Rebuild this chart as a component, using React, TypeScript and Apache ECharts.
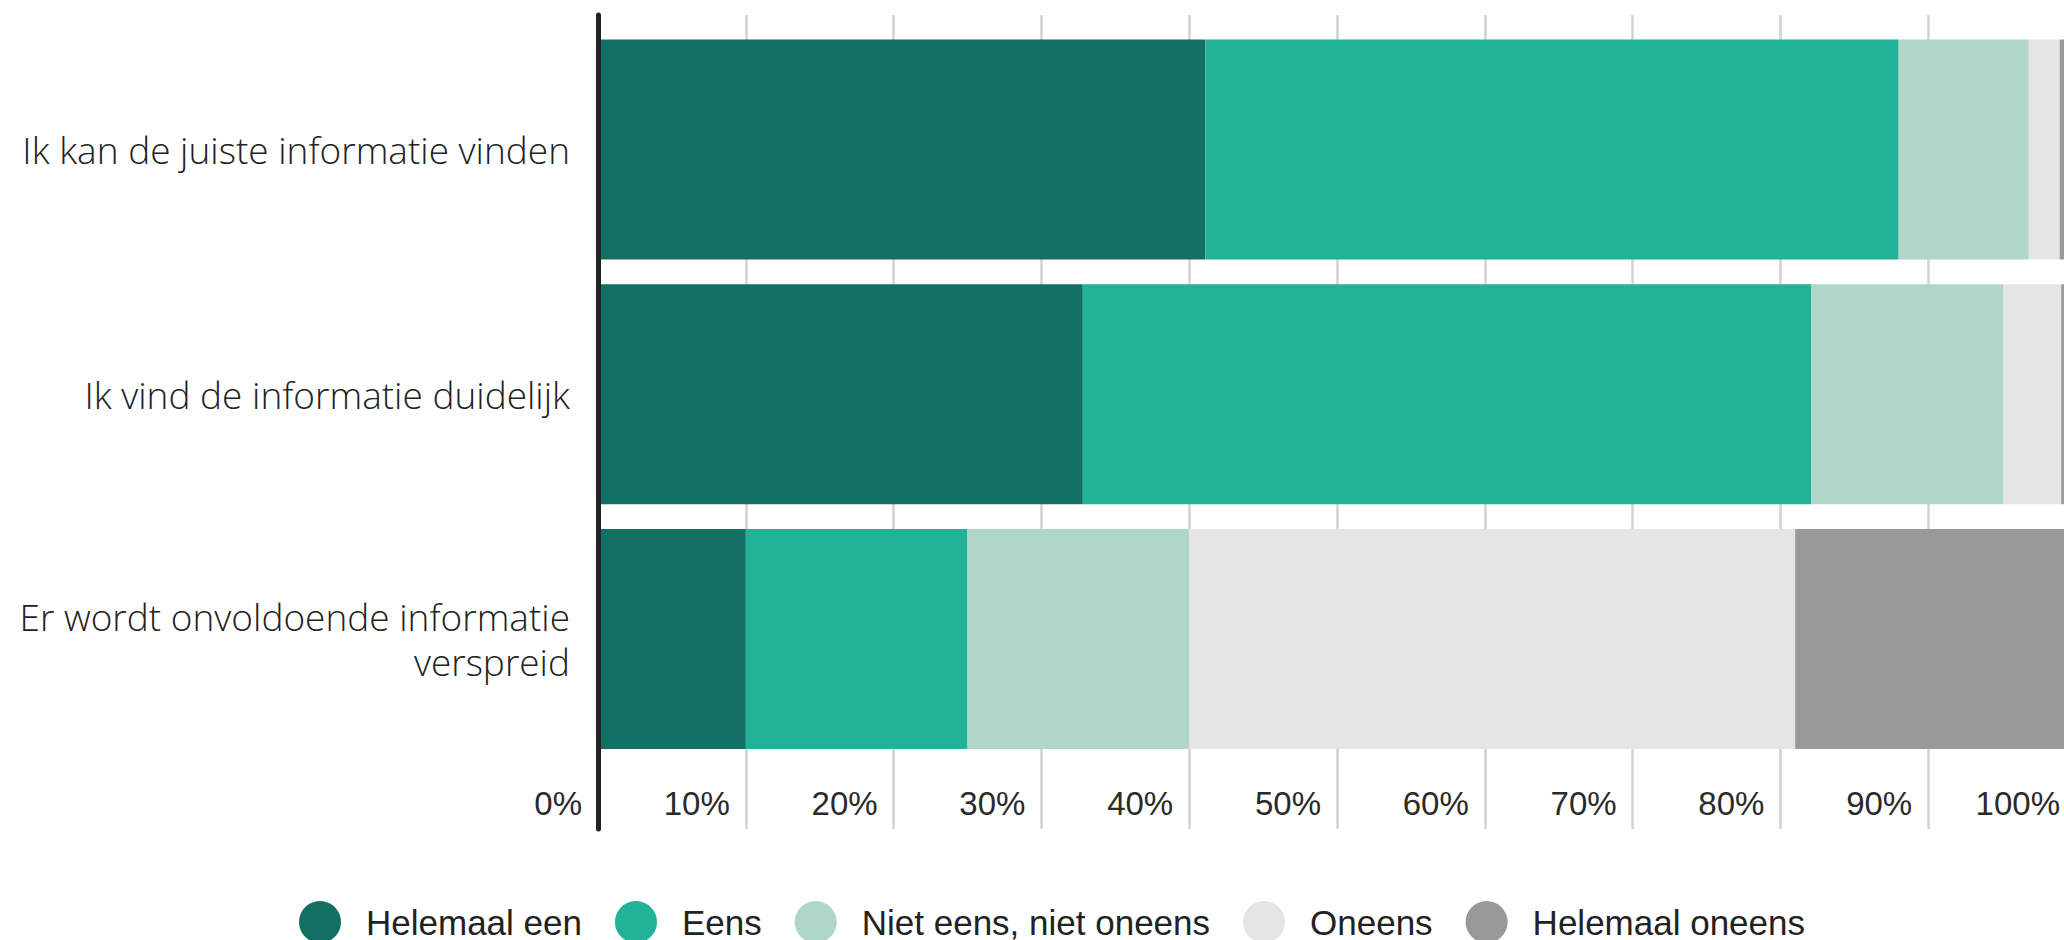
import React, { useEffect, useRef } from "react";
import * as echarts from "echarts";

const categories = [
  "Ik kan de juiste informatie vinden",
  "Ik vind de informatie duidelijk",
  "Er wordt onvoldoende informatie\nverspreid",
];
const seriesNames = ["Helemaal een", "Eens", "Niet eens, niet oneens", "Oneens", "Helemaal oneens"];
const helemaalEen = [41.1, 32.8, 10.0];
const eens = [46.9, 49.3, 15.0];
const nietEens = [8.8, 13.0, 15.0];
const oneens = [2.1, 3.9, 41.0];
const helemaalOneens = [1.1, 1.0, 19.0];
const seriesValues = [helemaalEen, eens, nietEens, oneens, helemaalOneens];
const colors = ["#116F63", "#22B199", "#B0D6CA", "#E5E5E5", "#999999"];

export default function App() {
  const ref = useRef<HTMLDivElement>(null);
  useEffect(() => {
    if (!ref.current) return;
    const chart = echarts.init(ref.current, null, { renderer: "svg" });
    const tickFont = "'Liberation Sans', Arial, sans-serif";
    const labelFont = "'Open Sans', 'Noto Sans', sans-serif";
    chart.setOption({
      animation: false,
      backgroundColor: "#ffffff",
      grid: [
        { left: 598, right: 0, top: 27, bottom: 178.5 },
        { left: 598, right: 0, top: 15, bottom: 111 },
      ],
      legend: {
        data: seriesNames,
        icon: "circle",
        itemWidth: 42,
        itemHeight: 42,
        itemGap: 33,
        left: 294,
        top: 896,
        textStyle: {
          fontFamily: tickFont,
          fontSize: 35,
          lineHeight: 37,
          color: "#222222",
          padding: [0, 0, 0, 20],
        },
      },
      xAxis: [
        { gridIndex: 0, type: "value", min: 0, max: 100, show: false },
        {
          gridIndex: 1,
          type: "value",
          min: 0,
          max: 100,
          interval: 10,
          axisLine: { show: false },
          axisTick: { show: false },
          splitLine: { show: true, lineStyle: { color: "#D2D2D2", width: 2.5 } },
          axisLabel: {
            inside: true,
            margin: 26,
            verticalAlign: "middle",
            align: "right",
            padding: [0, 16, 0, 0],
            formatter: "{value}%",
            fontFamily: tickFont,
            fontSize: 33,
            color: "#2A2A2A",
          },
        },
      ],
      yAxis: [
        {
          gridIndex: 0,
          type: "category",
          data: categories,
          inverse: true,
          axisLine: { show: false },
          axisTick: { show: false },
          splitLine: { show: false },
          axisLabel: {
            margin: 28,
            fontFamily: labelFont,
            fontWeight: 300,
            fontSize: 37,
            lineHeight: 45,
            color: "#222222",
            align: "right",
          },
        },
        {
          gridIndex: 1,
          type: "value",
          min: 0,
          max: 1,
          z: 10,
          axisLine: { show: true, lineStyle: { color: "#222222", width: 5 } },
          axisTick: { show: false },
          axisLabel: { show: false },
          splitLine: { show: false },
        },
      ],
      series: seriesNames.map((name, i) => ({
        name,
        type: "bar",
        stack: "total",
        xAxisIndex: 0,
        yAxisIndex: 0,
        barWidth: 220,
        data: seriesValues[i],
        itemStyle: { color: colors[i] },
        emphasis: { disabled: true },
      })),
    });
    return () => chart.dispose();
  }, []);
  return (
    <div style={{ position: "fixed", left: 0, top: 0, width: 2064, height: 940, overflow: "hidden" }}>
      <div ref={ref} style={{ width: 2076, height: 940 }} />
    </div>
  );
}
